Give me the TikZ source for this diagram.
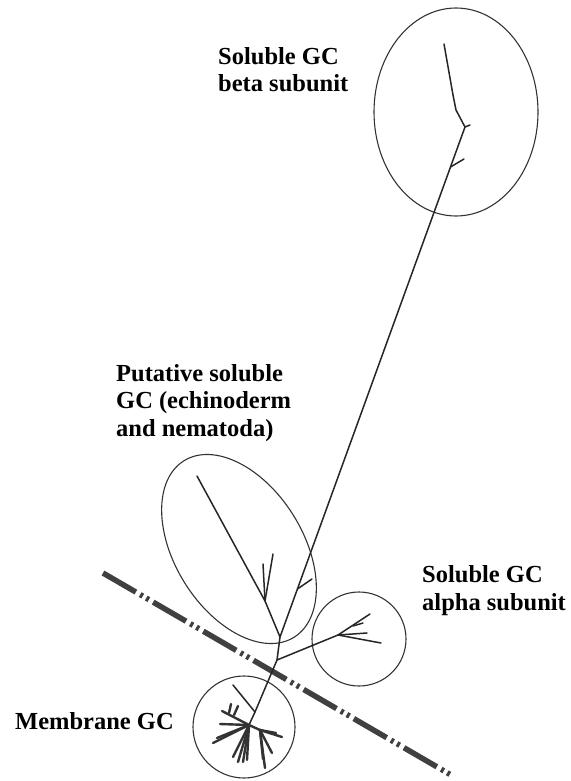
\documentclass[tikz,border=0pt]{standalone}
\usepackage{fontspec}
\setmainfont{Liberation Serif}
\begin{document}
\begin{tikzpicture}[
  x=1pt, y=-1pt,
  branch/.style={line width=1.5pt, line cap=round, draw=black!85},
  leafy/.style={line width=2.4pt, line cap=round, draw=black!80},
  ring/.style={line width=1.1pt, draw=black!80},
  cut/.style={line width=5.5pt, draw=black!75, dash pattern=on 38pt off 5pt on 3pt off 4pt on 3pt off 5pt},
  clade/.style={font=\bfseries\fontsize{24.5}{27.5}\selectfont, align=left, inner sep=0pt, anchor=base west}
]
  \useasboundingbox (0,0) rectangle (570,781);

  % clade labels (base = last line)
  \node[clade] (betalabel) at (218,92) {Soluble GC\\beta subunit};
  \node[clade] (putlabel) at (116,436) {Putative soluble\\GC (echinoderm\\and nematoda)};
  \node[clade] (alphalabel) at (422,610) {Soluble GC\\alpha subunit};
  \node[clade] (memlabel) at (15,729) {Membrane GC};

  % junctions of the tree
  \coordinate (btip) at (444,44);
  \coordinate (bknee) at (465,127);
  \coordinate (root) at (280,637);
  \coordinate (pjoin) at (265,601);
  \coordinate (ajoin) at (277,660);
  \coordinate (anode) at (338,635);
  \coordinate (mjoin) at (255,712);
  \coordinate (mnode) at (249,725);
  \coordinate (msub) at (260,730);

  % separating line
  \draw[cut] (103,573) -- (451,775);

  % circles round the clades
  \draw[ring] (456,112) ellipse [x radius=82pt, y radius=104pt];
  \draw[ring, rotate around={32:(239,549)}] (239,549) ellipse [x radius=64pt, y radius=104pt];
  \draw[ring] (359,639) circle (47pt);
  \draw[ring] (244,727) circle (51pt);

  % beta subunit
  \draw[branch] (btip) -- (453,95) -- (456,110) -- (bknee) -- (470,125);
  \draw[branch] (bknee) -- (root);
  \draw[branch] (450.5,167) -- (464,159);
  \draw[branch] (297.4,589) -- (312,579);

  % putative soluble GC
  \draw[branch] (root) -- (pjoin) -- (197,476);
  \draw[branch] (pjoin) -- (263,564);
  \draw[branch] (pjoin) -- (273,554);

  % alpha subunit
  \draw[branch] (root) -- (ajoin) -- (anode);
  \foreach \x/\y in {370/614,367/633,381/643} {
    \draw[branch] (anode) -- (\x,\y);
  }
  \draw[branch] (353,626) -- (363,623);

  % membrane GC
  \draw[branch] (ajoin) -- (mjoin) -- (mnode);
  \draw[branch] (mjoin) -- (233,685);
  \foreach \x/\y in {222/711,220/724,217/738,213/743,233/757,238/762,243/762,247/760} {
    \draw[leafy] (mnode) -- (\x,\y);
  }
  \draw[leafy] (229,713) -- (231,704);
  \draw[leafy] (234,715) -- (238,706);
  \draw[leafy] (mnode) -- (msub);
  \foreach \x/\y in {282/737,276/733,272/753,265/768,263/759} {
    \draw[leafy] (msub) -- (\x,\y);
  }
\end{tikzpicture}
\end{document}
